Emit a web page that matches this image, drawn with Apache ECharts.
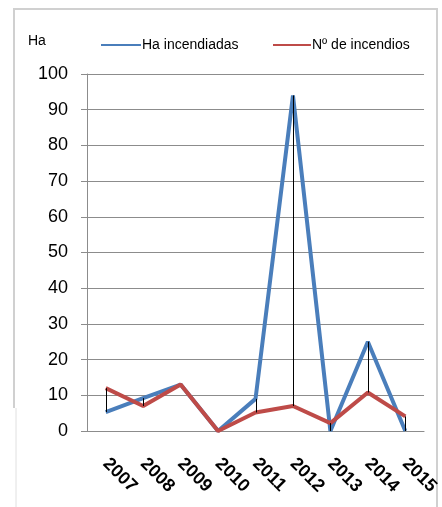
<!DOCTYPE html>
<html><head><meta charset="utf-8">
<script src="https://cdn.jsdelivr.net/npm/echarts@6/dist/echarts.min.js"></script>
<style>html,body{margin:0;padding:0;background:#fff}#c{width:442px;height:507px}</style>
</head><body><div id="c"></div>
<script>
const years = ['2007','2008','2009','2010','2011','2012','2013','2014','2015'];
const haIncendiadas = [5.3, 9.2, 13, 0, 9, 94, 0, 25, 0];
const numIncendios = [12, 7, 13, 0, 5.2, 7, 2.2, 10.8, 4.1];
const yTicks = {min: 0, max: 100, interval: 10};

const FONT = 'Liberation Sans';
const chart = echarts.init(document.getElementById('c'), null, {renderer: 'canvas'});
const hiLo = years.map((y, i) => [i, haIncendiadas[i], numIncendios[i]]);
chart.setOption({
  animation: false,
  backgroundColor: '#fff',
  graphic: [
    {type: 'polyline', shape: {points: [[14, 408], [14, 9], [437, 9], [437, 507]]}, style: {stroke: '#d0d0d0', lineWidth: 2, fill: null}},
    {type: 'line', shape: {x1: 16, y1: 408, x2: 16, y2: 507}, style: {stroke: '#e0e0e0', lineWidth: 1}},
    {type: 'text', left: 28, top: 34, style: {text: 'Ha', font: '14px "' + FONT + '"', fill: '#000'}}
  ],
  legend: [
    {data: ['Ha incendiadas'], left: 96, top: 33, icon: 'rect', itemWidth: 40, itemHeight: 2, itemGap: 0,
     textStyle: {fontFamily: FONT, fontSize: 14, color: '#000', padding: [0, 0, 0, -4]}},
    {data: ['Nº de incendios'], left: 268, top: 33, icon: 'rect', itemWidth: 38, itemHeight: 2, itemGap: 0,
     textStyle: {fontFamily: FONT, fontSize: 14, color: '#000', padding: [0, 0, 0, -4]}}
  ],
  grid: {left: 87, right: 16, top: 74, bottom: 76, containLabel: false},
  xAxis: {
    type: 'category', data: years, boundaryGap: true,
    axisLine: {show: true, lineStyle: {color: '#8c8c8c', width: 1}},
    axisTick: {show: false},
    axisLabel: {rotate: -45, margin: 30, fontFamily: FONT, fontSize: 18, fontWeight: 'bold', color: '#000', interval: 0}
  },
  yAxis: {
    type: 'value', min: yTicks.min, max: yTicks.max, interval: yTicks.interval,
    axisLine: {show: true, lineStyle: {color: '#8c8c8c', width: 1}},
    axisTick: {show: true, inside: false, length: 6, lineStyle: {color: '#8c8c8c'}},
    splitLine: {show: true, lineStyle: {color: '#8c8c8c', width: 1}},
    axisLabel: {fontFamily: FONT, fontSize: 18, color: '#000', margin: 19}
  },
  series: [
    {name: 'Ha incendiadas', type: 'line', data: haIncendiadas, symbol: 'none', z: 2,
     lineStyle: {color: '#4a7ebb', width: 4}, itemStyle: {color: '#4a7ebb'}},
    {name: 'Nº de incendios', type: 'line', data: numIncendios, symbol: 'none', z: 3,
     lineStyle: {color: '#be4b48', width: 4}, itemStyle: {color: '#be4b48'}},
    {type: 'custom', data: hiLo, z: 5, silent: true,
     renderItem: function (params, api) {
       const a = api.coord([api.value(0), api.value(1)]);
       const b = api.coord([api.value(0), api.value(2)]);
       return {type: 'line', shape: {x1: Math.round(a[0]) + 0.5, y1: a[1], x2: Math.round(b[0]) + 0.5, y2: b[1]},
               style: {stroke: '#000', lineWidth: 1}};
     }}
  ]
});
</script></body></html>
